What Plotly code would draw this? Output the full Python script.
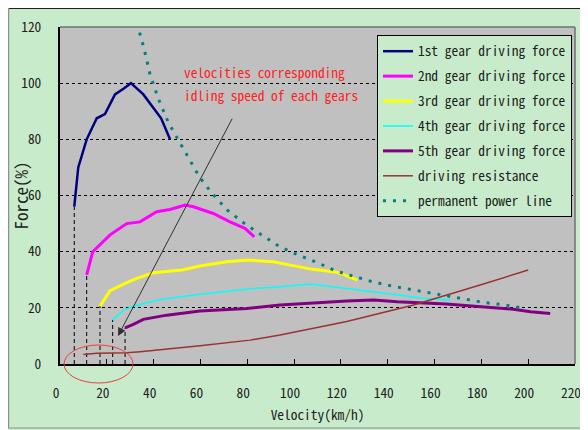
import plotly.graph_objects as go

# ---------------- data ----------------
speed1 = [6.1, 7.8, 11.4, 15.7, 19.2, 23.5, 27.1, 30.3, 35.6, 43.2, 47.0]
force1 = [56, 70, 80, 87.5, 89, 96, 98, 100, 96, 87.5, 80]

speed2 = [11.4, 14.0, 21.4, 28.5, 34.2, 41.3, 47.0, 53.4, 57.0, 65.5, 72.6, 79.0, 83.0]
force2 = [31.7, 40.0, 46.0, 50.0, 50.6, 54.2, 55.0, 56.6, 56.0, 53.6, 50.6, 48.3, 45.3]

speed3 = [17.1, 21.4, 27.8, 32.8, 39.9, 52.0, 59.8, 71.2, 80.5, 91.2, 98.3, 108.0, 117.5, 121.0, 127.0]
force3 = [20.6, 26.1, 28.7, 30.5, 32.5, 33.5, 34.9, 36.4, 37.0, 36.4, 35.2, 33.7, 32.8, 31.9, 29.9]

speed4 = [22.5, 27.1, 31.3, 42.7, 59.8, 82.6, 94.0, 106.8, 122.5, 143.9, 155.3, 166.7]
force4 = [15.7, 19.2, 20.6, 23.0, 24.8, 26.9, 27.5, 28.5, 26.9, 24.6, 23.4, 22.8]

speed5 = [27.8, 31.3, 35.6, 45.6, 59.8, 79.8, 94.0, 101.0, 122.5, 134.0, 144.0, 165.0, 179.5, 193.7, 201.0, 209.4]
force5 = [12.9, 14.1, 15.9, 17.4, 18.9, 19.8, 21.0, 21.4, 22.4, 22.8, 22.2, 21.4, 20.4, 19.5, 18.6, 18.0]

speed_res = [10, 15.7, 28.5, 34.2, 59.8, 81.2, 94, 102.6, 122.5, 151, 179.5, 200]
force_res = [3.4, 3.8, 4.0, 4.4, 6.5, 8.5, 10.3, 11.7, 15.1, 21.0, 28.1, 33.5]

speed_pow = [34, 36, 38.5, 42, 46.3, 51.3, 59.5, 65, 71.5, 79.3, 86.6, 94, 101.8, 109.7,
             117.5, 125.4, 133.5, 141.5, 149.6, 158.1, 165.9, 174, 182, 190.2, 198.7]
force_pow = [118, 112, 103, 94.5, 86, 78.5, 66.7, 60.7, 54.8, 49.7, 45.6, 41.7, 38.8, 36.2,
             33.2, 31.4, 29.3, 27.8, 26.6, 25.2, 24, 23, 21.8, 21, 19.8]

names = ["1st gear driving force", "2nd gear driving force", "3rd gear driving force",
         "4th gear driving force", "5th gear driving force", "driving resistance",
         "permanent power line"]
x_ticks = [0, 20, 40, 60, 80, 100, 120, 140, 160, 180, 200, 220]
y_ticks = [0, 20, 40, 60, 80, 100, 120]
note_lines = ["velocities corresponding", "idling speed of each gears"]

FONT = "Noto Sans Mono CJK SC, Liberation Mono, monospace"
GREEN = "#C8ECCB"

fig = go.Figure()

# dashed drop lines at the idle speed of each gear
for sx, sy in [(speed1, force1), (speed2, force2), (speed3, force3), (speed4, force4), (speed5, force5)]:
    fig.add_trace(go.Scatter(x=[sx[0], sx[0]], y=[0, sy[0]], mode="lines",
                             line=dict(color="black", width=1, dash="4px,3px"),
                             showlegend=False, hoverinfo="skip"))

series = [
    (speed1, force1, "#000080", 2.5, "solid"),
    (speed2, force2, "#FF00FF", 3, "solid"),
    (speed3, force3, "#FFFF00", 3, "solid"),
    (speed4, force4, "#00FFFF", 1.5, "solid"),
    (speed5, force5, "#800080", 3, "solid"),
    (speed_res, force_res, "#993333", 1.5, "solid"),
    (speed_pow, force_pow, "#008080", 3, "3px,7px"),
]
for i, (sx, sy, col, w, d) in enumerate(series):
    fig.add_trace(go.Scatter(x=sx, y=sy, mode="lines", name=names[i],
                             legendgroup=f"g{i}",
                             line=dict(color=col, width=w, dash=d)))

# note text
fig.add_annotation(x=52, y=103.9, xref="x", yref="y", text=note_lines[0], showarrow=False,
                   xanchor="left", yanchor="middle", font=dict(family=FONT, size=13.4, color="#FF2020"))
fig.add_annotation(x=52, y=95.7, xref="x", yref="y", text=note_lines[1], showarrow=False,
                   xanchor="left", yanchor="middle", font=dict(family=FONT, size=13.4, color="#FF2020"))
# arrow
fig.add_annotation(x=24.8, y=10, ax=73.9, ay=87.9, xref="x", yref="y", axref="x", ayref="y",
                   text="", showarrow=True, arrowhead=2, arrowsize=1.6, arrowwidth=1,
                   arrowcolor="#303030")

# figure is 580x422 (page adds an 8px body margin); plot area 515x337
shapes = [
    # outer frame lines (top dark, left and bottom grey)
    dict(type="line", xref="paper", yref="paper", x0=-0.101, x1=1.03, y0=1.0555, y1=1.0555,
         line=dict(color="#202020", width=1.5)),
    dict(type="line", xref="paper", yref="paper", x0=-0.1, x1=-0.1, y0=-0.19, y1=1.06,
         line=dict(color="#909090", width=1.5)),
    dict(type="line", xref="paper", yref="paper", x0=-0.101, x1=1.03, y0=-0.19, y1=-0.19,
         line=dict(color="#909090", width=1)),
    # plot border top/right
    dict(type="line", xref="paper", yref="paper", x0=0, x1=1, y0=1, y1=1,
         line=dict(color="#707070", width=1.5)),
    dict(type="line", xref="paper", yref="paper", x0=1, x1=1, y0=0, y1=1,
         line=dict(color="#707070", width=1.5)),
    # red ellipse
    dict(type="circle", xref="paper", yref="paper", x0=0.0078, x1=0.1417, y0=-0.0564, y1=0.0564,
         line=dict(color="#E84040", width=1)),
]

fig.update_layout(
    width=580, height=422,
    margin=dict(l=52, r=13, t=19, b=66, autoexpand=False),
    paper_bgcolor=GREEN,
    plot_bgcolor="#C0C0C0",
    font=dict(family=FONT, size=13.4, color="#202020"),
    shapes=shapes,
    showlegend=True,
    legend=dict(x=0.6155, y=0.9763, xanchor="left", yanchor="top",
                bgcolor=GREEN, bordercolor="black", borderwidth=1,
                font=dict(family=FONT, size=13.4, color="#202020"),
                itemwidth=30, tracegroupgap=4.5, traceorder="grouped"),
    xaxis=dict(range=[0, 220], tickvals=x_ticks, ticktext=[str(v) for v in x_ticks],
               showgrid=False, zeroline=False, showline=True, linecolor="black", linewidth=2,
               ticks="inside", ticklen=5, tickcolor="black", tickwidth=1, automargin=False,
               ticklabelstandoff=16, ticklabelshift=-4,
               title=dict(text="Velocity(km/h)", standoff=10,
                          font=dict(family=FONT, size=13.4, color="#202020"))),
    yaxis=dict(range=[0, 120], tickvals=y_ticks, ticktext=[str(v) for v in y_ticks],
               showgrid=True, gridcolor="black", gridwidth=1, griddash="3px,3px",
               zeroline=False, showline=True, linecolor="black", linewidth=2,
               ticks="", ticklabelstandoff=14, automargin=False,
               title=dict(text="Force(%)", standoff=4,
                          font=dict(family=FONT, size=17, color="#202020"))),
)

fig.write_html("out.html")
